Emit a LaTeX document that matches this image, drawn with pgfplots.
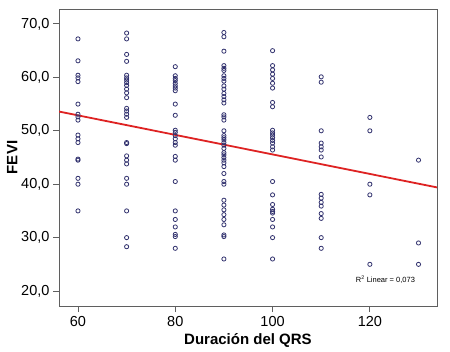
\documentclass[border=0pt]{standalone}
\usepackage{pgfplots}
\pgfplotsset{compat=1.18}
\usepackage{fontspec}
\setmainfont{Liberation Sans}
\definecolor{markc}{RGB}{50,50,110}
\definecolor{framec}{RGB}{95,95,95}
\definecolor{fitc}{RGB}{222,35,35}
\pgfplotstableread{
x y
60 67.2
60 63.1
60 60.4
60 59.9
60 59.2
60 55.0
60 53.1
60 52.6
60 52.0
60 49.2
60 48.5
60 47.8
60 44.7
60 44.5
60 41.1
60 40.0
60 35.0
70 68.3
70 67.2
70 64.3
70 63.0
70 60.4
70 59.9
70 59.5
70 59.0
70 58.5
70 57.8
70 57.1
70 56.2
70 54.2
70 53.7
70 53.1
70 52.5
70 47.8
70 47.6
70 45.3
70 44.5
70 43.8
70 41.1
70 40.0
70 35.0
70 30.0
70 28.3
80 62.0
80 60.3
80 59.8
80 59.4
80 58.9
80 58.4
80 58.0
80 57.5
80 55.0
80 52.9
80 50.1
80 49.7
80 49.1
80 48.5
80 47.8
80 47.3
80 45.2
80 44.5
80 40.5
80 35.0
80 33.4
80 32.0
80 30.6
80 30.2
80 28.0
90 68.4
90 67.6
90 64.9
90 62.2
90 61.7
90 61.3
90 60.3
90 59.8
90 59.3
90 58.4
90 57.8
90 57.0
90 56.4
90 55.8
90 55.2
90 53.0
90 52.6
90 52.0
90 50.0
90 49.1
90 48.7
90 48.3
90 47.8
90 47.3
90 46.7
90 45.9
90 45.5
90 45.0
90 44.5
90 44.0
90 43.3
90 42.0
90 40.5
90 40.0
90 37.0
90 36.1
90 35.2
90 34.3
90 33.4
90 32.4
90 30.5
90 30.2
90 26.0
100 65.0
100 62.2
100 61.4
100 60.6
100 59.8
100 58.9
100 58.0
100 55.3
100 54.5
100 50.1
100 49.6
100 49.2
100 48.7
100 48.2
100 47.7
100 47.0
100 46.4
100 40.5
100 38.0
100 36.2
100 35.3
100 34.9
100 34.6
100 33.4
100 32.0
100 30.0
100 26.0
110 60.1
110 59.1
110 50.0
110 47.7
110 47.0
110 46.4
110 45.1
110 38.1
110 37.4
110 36.6
110 35.9
110 34.5
110 33.6
110 30.0
110 28.0
120 52.5
120 50.0
120 40.0
120 38.0
120 25.0
130 44.5
130 29.0
130 25.0
}\pts
\begin{document}
\begin{tikzpicture}[x=1pt,y=1pt]
\path[use as bounding box] (0,0) rectangle (450,351);
\begin{axis}[
  at={(59pt,45pt)}, anchor=south west,
  scale only axis, width=378pt, height=297pt,
  xmin=56.1, xmax=133.8, ymin=17.2, ymax=72.8,
  xtick={60,80,100,120}, ytick={20,30,40,50,60,70},
  axis line style={framec, line width=0.9pt},
  tick style={framec, line width=0.9pt},
  tick align=outside, tick pos=left, major tick length=6pt,
  /pgf/number format/assume math mode=true,
  yticklabel style={/pgf/number format/.cd, use comma, fixed, fixed zerofill, precision=1},
  ticklabel style={font=\fontsize{14.5}{16}\selectfont, text=black},
  xticklabel style={yshift=-1pt},
  xlabel={\bfseries Duración del QRS},
  ylabel={\bfseries FEVI},
  every axis x label/.style={at={(axis description cs:0.5,-0.1145)}, anchor=center, font=\fontsize{15}{17}\selectfont},
  every axis y label/.style={at={(axis description cs:-0.124,0.5)}, anchor=center, rotate=90, font=\fontsize{15}{17}\selectfont},
  clip=true,
]
\addplot[only marks, mark=o, mark size=2.1pt, mark options={draw=markc, line width=0.8pt}] table[x=x,y=y]{\pts};
\addplot[fitc, line width=1.8pt] coordinates {(56.1,53.6) (133.8,39.4)};
\node[font=\fontsize{7.5}{9}\selectfont] at (axis cs:123.2,22.1) {R\textsuperscript{2} Linear = 0,073};
\end{axis}
\end{tikzpicture}
\end{document}
